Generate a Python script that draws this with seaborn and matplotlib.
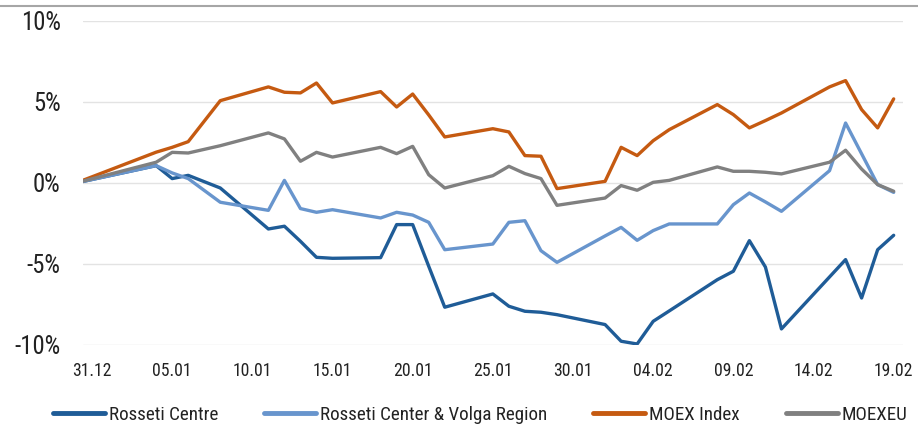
import numpy as np
import pandas as pd
import matplotlib
matplotlib.use("Agg")
import matplotlib.pyplot as plt
import matplotlib.dates as mdates
from matplotlib import font_manager
from matplotlib.font_manager import FontProperties
from matplotlib.lines import Line2D
from matplotlib.textpath import TextPath
from matplotlib.ticker import FuncFormatter
import seaborn as sns

# trading days (30.12.2020 is the base point)
dates = pd.to_datetime([
    "2020-12-30",
    "2021-01-04", "2021-01-05", "2021-01-06", "2021-01-08",
    "2021-01-11", "2021-01-12", "2021-01-13", "2021-01-14", "2021-01-15",
    "2021-01-18", "2021-01-19", "2021-01-20", "2021-01-21", "2021-01-22",
    "2021-01-25", "2021-01-26", "2021-01-27", "2021-01-28", "2021-01-29",
    "2021-02-01", "2021-02-02", "2021-02-03", "2021-02-04", "2021-02-05",
    "2021-02-08", "2021-02-09", "2021-02-10", "2021-02-11", "2021-02-12",
    "2021-02-15", "2021-02-16", "2021-02-17", "2021-02-18", "2021-02-19",
])

rosseti_centre = [
    0, 1.07, 0.27, 0.47, -0.31,
    -2.84, -2.67, -3.6, -4.59, -4.65,
    -4.61, -2.57, -2.57, -5.14, -7.67,
    -6.85, -7.61, -7.92, -7.98, -8.13,
    -8.74, -9.77, -9.94, -8.54, -7.9,
    -5.97, -5.45, -3.56, -5.19, -9.01,
    -5.8, -4.73, -7.1, -4.12, -3.23,
]
rosseti_volga = [
    0, 1.07, 0.62, 0.27, -1.19,
    -1.69, 0.16, -1.58, -1.81, -1.65,
    -2.16, -1.81, -1.98, -2.43, -4.12,
    -3.77, -2.43, -2.33, -4.18, -4.9,
    -3.27, -2.74, -3.54, -2.94, -2.53,
    -2.53, -1.34, -0.62, -1.17, -1.75,
    0.76, 3.7, 1.8, -0.1, -0.58,
]
moex_index = [
    0, 1.9, 2.2, 2.55, 5.08,
    5.93, 5.6, 5.56, 6.17, 4.94,
    5.64, 4.69, 5.49, 4.2, 2.84,
    3.35, 3.15, 1.69, 1.65, -0.35,
    0.1, 2.2, 1.69, 2.61, 3.29,
    4.84, 4.22, 3.4, 3.85, 4.32,
    5.93, 6.32, 4.53, 3.4, 5.19,
]
moexeu = [
    0, 1.28, 1.89, 1.85, 2.3,
    3.09, 2.72, 1.34, 1.89, 1.6,
    2.2, 1.81, 2.26, 0.51, -0.31,
    0.45, 1.03, 0.58, 0.27, -1.38,
    -0.93, -0.16, -0.45, 0.04, 0.16,
    0.99, 0.72, 0.72, 0.66, 0.56,
    1.28, 2.02, 0.86, -0.1, -0.51,
]

series_names = ["Rosseti Centre", "Rosseti Center & Volga Region", "MOEX Index", "MOEXEU"]
series_values = [rosseti_centre, rosseti_volga, moex_index, moexeu]
palette = ["#1F5C97", "#6895CD", "#C55A11", "#808080"]

df = pd.concat(
    [pd.DataFrame({"date": dates, "value": vals, "series": name})
     for name, vals in zip(series_names, series_values)],
    ignore_index=True,
)

# the original uses a condensed face; take one if the system has it
installed = {f.name for f in font_manager.fontManager.ttflist}
narrow = sorted(n for n in installed if "Condensed" in n or "Narrow" in n)
family = None
for cand in ["Roboto Condensed", "Liberation Sans Narrow", "Noto Sans Condensed",
             "Open Sans Condensed", "DejaVu Sans Condensed"] + narrow:
    if cand in installed:
        family = cand
        break
if family is None:
    family = "Roboto" if "Roboto" in installed else "Liberation Sans"

DPI = 100


def fit_size(text, target_px):
    # font size (pt) that makes the text about target_px wide
    w = TextPath((0, 0), text, size=1, prop=FontProperties(family=family)).get_extents().width
    return target_px * 72 / DPI / w


ytick_size = fit_size("10%", 37)
xtick_size = fit_size("31.12", 38)
legend_size = fit_size("Rosseti Center & Volga Region", 225)
leg_px = legend_size * DPI / 72

sns.set_style("white")
plt.rcParams["font.family"] = [family, "DejaVu Sans"]
plt.rcParams["axes.unicode_minus"] = False

fig = plt.figure(figsize=(9.18, 4.28), dpi=DPI)
ax = fig.add_axes([0.0904, 0.194, 0.8933, 0.757])

sns.lineplot(data=df, x="date", y="value", hue="series", hue_order=series_names,
             palette=palette, linewidth=2.4, ax=ax, legend=True)

ax.set_ylim(-10, 10)
ax.set_yticks([-10, -5, 0, 5, 10])
ax.yaxis.set_major_formatter(FuncFormatter(lambda v, _: f"{v:.0f}%"))

left = pd.Timestamp("2020-12-31") - pd.Timedelta(hours=13.5)
right = pd.Timestamp("2021-02-19") + pd.Timedelta(hours=14)
ax.set_xlim(left, right)
ax.set_xticks(pd.date_range("2020-12-31", "2021-02-19", freq="5D"))
ax.xaxis.set_major_formatter(mdates.DateFormatter("%d.%m"))

ax.grid(axis="y", color="#E3E3E3", linewidth=1)
ax.grid(axis="x", visible=False)
for s in ax.spines.values():
    s.set_visible(False)
ax.tick_params(axis="y", length=0, pad=16, labelsize=ytick_size, labelcolor="#222222")
ax.tick_params(axis="x", length=0, pad=12, labelsize=xtick_size, labelcolor="#222222")
ax.set_xlabel("")
ax.set_ylabel("")

handles, labels = ax.get_legend_handles_labels()
ax.get_legend().remove()
for h in handles:
    h.set_linewidth(3.5)
fig.legend(handles, labels, loc="center", bbox_to_anchor=(0.523, 0.03), ncol=4,
           frameon=False, fontsize=legend_size, handlelength=52 / leg_px,
           handletextpad=4 / leg_px, columnspacing=46 / leg_px, labelcolor="#222222")

fig.add_artist(Line2D([0, 1], [0.986, 0.986], transform=fig.transFigure,
                      color="#A6A6A6", linewidth=1.5))

fig.savefig("out.png", dpi=DPI)
